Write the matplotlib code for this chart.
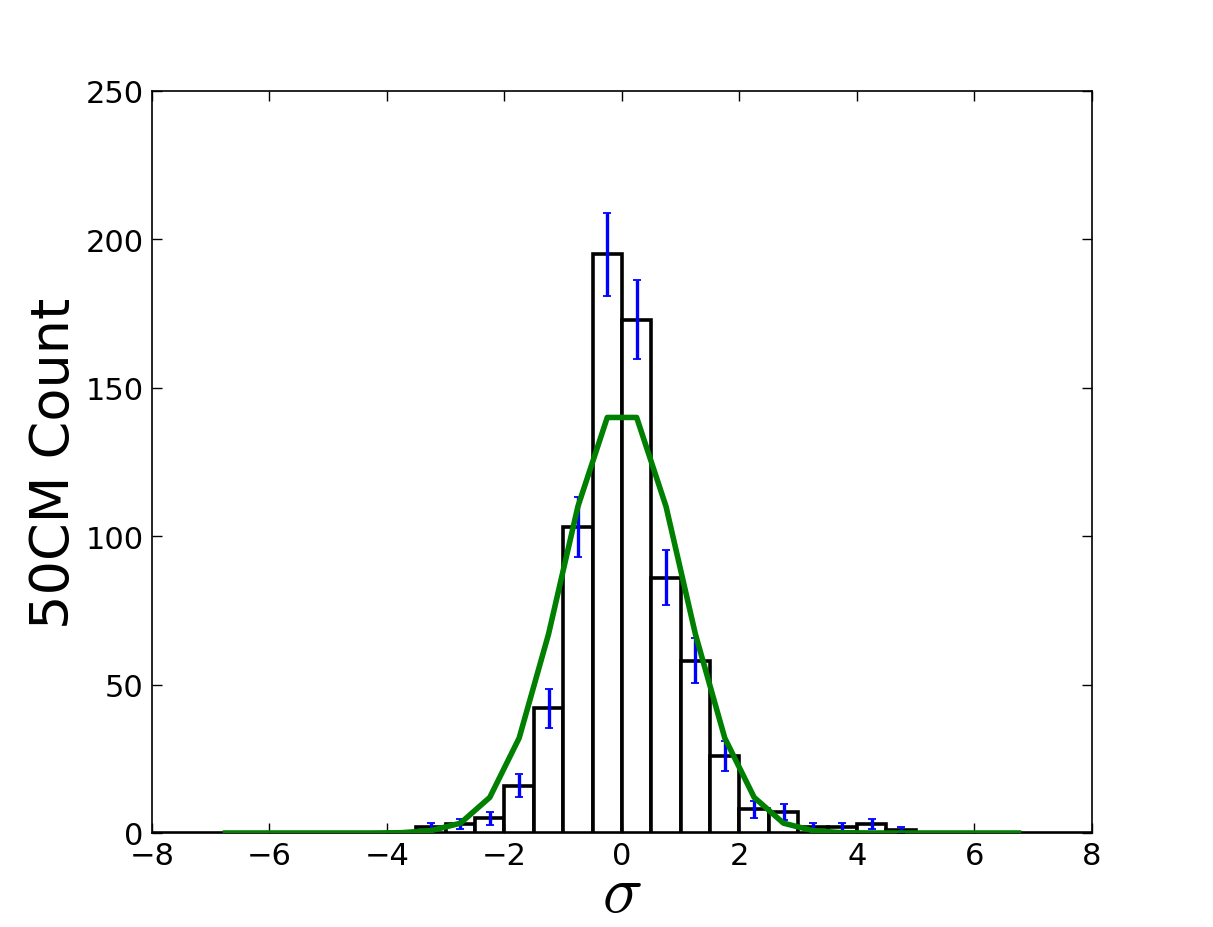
import numpy as np
import matplotlib
matplotlib.use("Agg")
import matplotlib.pyplot as plt

# Histogram: bins of width 0.5 from -8 to 8
bin_lo, bin_hi, bin_w = -8.0, 8.0, 0.5
# counts for bins starting at -3.5 ... 4.5
first_bin_left = -3.5
counts = [2, 3, 5, 16, 42, 103, 195, 173, 86, 58, 26, 8, 7, 2, 2, 3, 1]

# Gaussian model evaluated at bin centres -6.75 ... 6.75
model_x_start = -6.75
model_vals = [0, 0, 0, 0, 0, 0, 0.1, 0.8, 3.3, 12, 32, 67, 110, 140,
              140, 110, 67, 32, 12, 3.3, 0.8, 0.1, 0, 0, 0, 0, 0, 0]

xlabel = r"$\sigma$"
ylabel = "50CM Count"

plt.rcParams["mathtext.fontset"] = "cm"

edges = np.arange(bin_lo, bin_hi + bin_w / 2, bin_w)
full = np.zeros(len(edges) - 1)
i0 = int(round((first_bin_left - bin_lo) / bin_w))
full[i0:i0 + len(counts)] = counts

fig = plt.figure(figsize=(12.13, 9.28), dpi=100)
ax = fig.add_axes([0.1253, 0.1013, 0.7749, 0.7996])

ax.bar(edges[:-1], full, width=bin_w, align="edge", facecolor="white",
       edgecolor="black", linewidth=2.6, zorder=1)

cent = np.array([first_bin_left + bin_w * (i + 0.5) for i in range(len(counts))])
c = np.array(counts, dtype=float)
ax.errorbar(cent, c, yerr=np.sqrt(c), fmt="none", ecolor="blue",
            elinewidth=2.4, capsize=3, capthick=1.3, zorder=2)

mx = np.array([model_x_start + bin_w * i for i in range(len(model_vals))])
ax.plot(mx, model_vals, color="green", linewidth=4, zorder=3)

ax.set_xlim(-8, 8)
ax.set_ylim(0, 250)
ax.set_xticks(np.arange(-8, 9, 2))
ax.set_yticks(np.arange(0, 251, 50))
ax.tick_params(direction="in", top=True, right=True, length=7, width=1,
               labelsize=22, pad=6)
for s in ax.spines.values():
    s.set_linewidth(1.2)
ax.set_xlabel(xlabel, fontsize=48, labelpad=-8)
ax.set_ylabel(ylabel, fontsize=39, labelpad=4)

fig.savefig("out.png", dpi=100)
